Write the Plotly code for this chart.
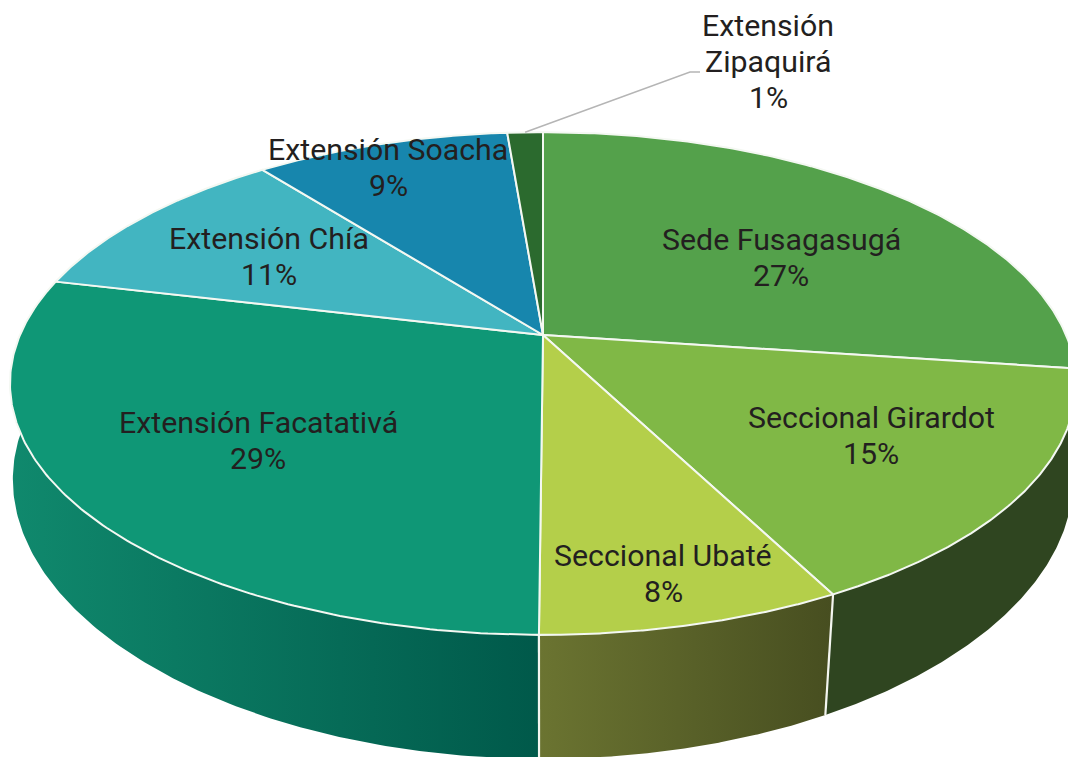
import numpy as np
import plotly.graph_objects as go

# Data
categories = ["Sede Fusagasugá", "Seccional Girardot", "Seccional Ubaté", "Extensión Facatativá",
              "Extensión Chía", "Extensión Soacha", "Extensión<br>Zipaquirá"]
shares = [27.15, 15.25, 7.7, 28.6, 10.7, 9.3, 1.3]

# Styles
top_colors = ["#54a14b", "#80b846", "#b4cf4a", "#0f9776", "#42b5c1", "#1786ad", "#2b6a2e"]
wall_gradients = {1: ("#2f4520", "#2f4520"), 2: ("#6b7431", "#474e20"), 3: ("#10896d", "#00594a")}
label_pos = [(781, 257), (871, 435), (663, 573), (258, 440), (269, 256), (388, 167), (768, 61)]

W, H = 1068, 757
CX, CY = 543, 335
A, B, K = 242, 523, 0.193      # perspective disc
DEPTH = 100                    # extrusion
LINE_GAP = 36


def top_rim(theta):
    sx, cy = np.sin(theta), np.cos(theta)
    w = 1 + K * cy
    return CX + B * sx / w, CY - A * cy / w, w


def bottom_rim(theta):
    x, y, w = top_rim(theta)
    shrink = 1.0 + 0.03 * np.minimum(np.cos(theta), 0)
    return CX + (x - CX) * shrink, y + DEPTH / w


edges = np.cumsum([0] + shares) / sum(shares) * 2 * np.pi
fig = go.Figure()

# side walls (front-facing slices only)
for i, (c0, c1) in wall_gradients.items():
    t = np.linspace(edges[i], edges[i + 1], 160)
    xt, yt, _ = top_rim(t)
    xb, yb = bottom_rim(t)
    fig.add_trace(go.Scatter(
        x=np.r_[xt, xb[::-1], xt[0]], y=np.r_[yt, yb[::-1], yt[0]],
        mode="lines", fill="toself",
        line=dict(color="rgba(0,0,0,0)", width=0),
        fillgradient=dict(type="horizontal", colorscale=[[0, c0], [1, c1]],
                          start=float(xt.min()), stop=float(xt.max())),
        hoverinfo="skip", showlegend=False))

# white vertical seams between the walls
for i in (2, 3):
    tx, ty, _ = top_rim(edges[i])
    bx, by = bottom_rim(edges[i])
    fig.add_trace(go.Scatter(x=[tx, bx], y=[ty, by], mode="lines",
                             line=dict(color="#f4f6f0", width=2.2),
                             hoverinfo="skip", showlegend=False))

# top faces
for i, col in enumerate(top_colors):
    t = np.linspace(edges[i], edges[i + 1], 160)
    x, y, _ = top_rim(t)
    fig.add_trace(go.Scatter(
        x=np.r_[CX, x, CX], y=np.r_[CY, y, CY], mode="lines", fill="toself",
        fillcolor=col, line=dict(color="#f4f8f2", width=2),
        hoverinfo="skip", showlegend=False))

# leader for the smallest slice
lx, ly, _ = top_rim((edges[6] + edges[7]) / 2)
fig.add_trace(go.Scatter(x=[lx, 690, 700], y=[ly, 72, 72], mode="lines",
                         line=dict(color="#b5b5b5", width=1.5),
                         hoverinfo="skip", showlegend=False))

for name, val, (px, py) in zip(categories, shares, label_pos):
    lines = name.split("<br>") + [f"{round(val)}%"]
    for j, line in enumerate(lines):
        fig.add_annotation(x=px, y=py + (j - (len(lines) - 1) / 2) * LINE_GAP, text=line,
                           showarrow=False,
                           font=dict(family="Roboto", size=30.3, color="#231f20", weight=400),
                           xanchor="center", yanchor="middle")

fig.update_layout(
    width=W, height=H, margin=dict(l=0, r=0, t=0, b=0), autosize=False,
    paper_bgcolor="white", plot_bgcolor="white", showlegend=False,
    xaxis=dict(range=[0, W], visible=False, fixedrange=True),
    yaxis=dict(range=[H, 0], visible=False, fixedrange=True),
)
fig.write_html("out.html", config={"displayModeBar": False},
               post_script="document.body.style.margin='0';document.body.style.overflow='hidden';")
